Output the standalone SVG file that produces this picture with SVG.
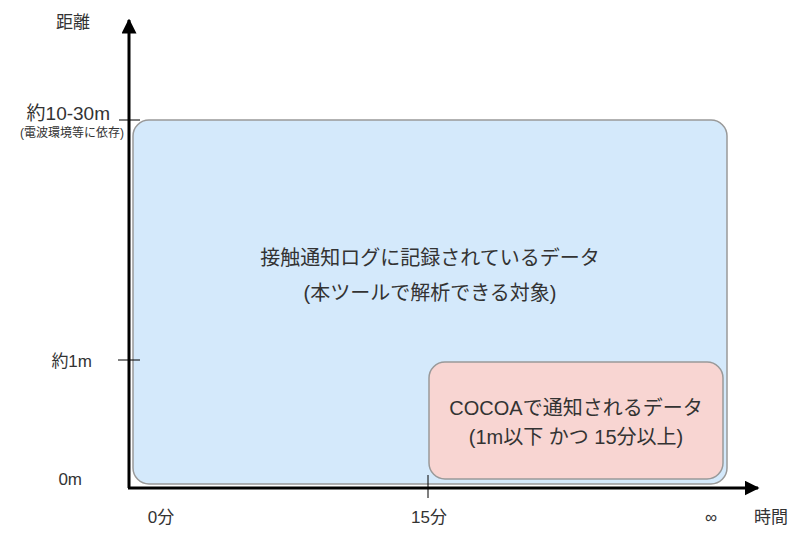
<svg xmlns="http://www.w3.org/2000/svg" width="800" height="546" viewBox="0 0 800 546">
<style>
text{font-family:"Liberation Sans","Noto Sans CJK JP",sans-serif;fill:#333;font-size:17px}
.m{font-size:20px}
.c{text-anchor:middle}
.r{text-anchor:end}
.ax{stroke:#000;stroke-width:3;fill:none}
.tk{stroke:#000;stroke-width:1;fill:none}
</style>
<defs>
<marker id="ah" viewBox="0 0 10 10" refX="9" refY="5" markerWidth="5" markerHeight="5" orient="auto" markerUnits="strokeWidth">
<path d="M0,0 L10,5 L0,10 Z" fill="#000"/>
</marker>
</defs>
<g id="area-log">
<rect x="133" y="120" width="594" height="364" rx="16" fill="#d4e9fb" stroke="#999" stroke-width="1.5"/>
<text class="c m" x="430" y="265">接触通知ログに記録されているデータ</text>
<text class="c m" x="430" y="300">(本ツールで解析できる対象)</text>
</g>
<g id="area-cocoa">
<rect x="429" y="362" width="294" height="117" rx="16" fill="#f8d5d2" stroke="#999" stroke-width="1.5"/>
<text class="c m" x="576" y="415">COCOAで通知されるデータ</text>
<text class="c m" x="576" y="444">(1m以下 かつ 15分以上)</text>
</g>
<g id="connectors">
<line class="ax" x1="129" y1="488" x2="129" y2="20" marker-end="url(#ah)"/>
<line class="ax" x1="128" y1="488" x2="758" y2="488" marker-end="url(#ah)"/>
<line class="tk" x1="119" y1="120" x2="140" y2="120"/>
<line class="tk" x1="118" y1="360" x2="140" y2="360"/>
<line class="tk" x1="428" y1="475" x2="428" y2="498"/>
</g>
<g id="labels">
<text class="c" x="73" y="28">距離</text>
<text class="r" x="110" y="120" style="font-size:19px">約10-30m</text>
<text class="r" x="124" y="137" style="font-size:12px">(電波環境等に依存)</text>
<text class="r" x="92" y="367">約1m</text>
<text class="r" x="82" y="485">0m</text>
<text class="c" x="161" y="523">0分</text>
<text class="c" x="429" y="523">15分</text>
<text class="c" x="711" y="523">∞</text>
<text class="c" x="771" y="523">時間</text>
</g>
</svg>
